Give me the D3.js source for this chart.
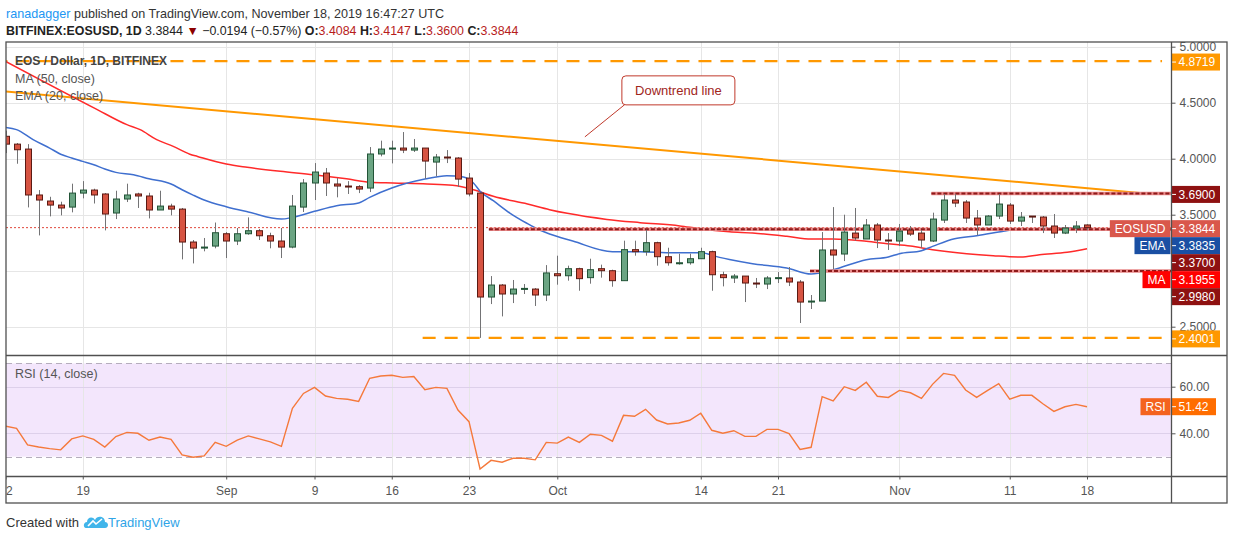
<!DOCTYPE html>
<html><head><meta charset="utf-8">
<script src="https://cdn.jsdelivr.net/npm/d3@7"></script>
<style>
body{margin:0;background:#fff;}
svg{display:block;font-family:"Liberation Sans",Arial,sans-serif;}
</style></head><body>
<svg id="c" width="1234" height="540"></svg>
<script>
// ---------------- DATA ----------------
const startDate = "2019-08-12";
const opens  = [4.20,4.13,4.086,3.676,3.622,3.586,3.568,3.693,3.72,3.685,3.515,3.64,3.685,3.667,3.542,3.577,3.55,3.256,3.202,3.22,3.33,3.265,3.33,3.357,3.312,3.265,3.211,3.568,3.783,3.872,3.774,3.756,3.75,3.738,4.042,4.086,4.095,4.077,4.095,3.97,4.015,4.006,3.827,3.693,2.765,2.872,2.792,2.836,2.836,2.783,2.973,2.955,3.018,2.938,3.018,3.0,2.911,3.188,3.17,3.25,3.125,3.063,3.071,3.107,3.17,2.964,2.935,2.952,2.89,2.881,2.932,2.935,2.899,2.72,2.729,3.185,3.149,3.336,3.283,3.408,3.274,3.265,3.363,3.336,3.265,3.452,3.631,3.613,3.47,3.408,3.488,3.586,3.443,3.488,3.479,3.399,3.336,3.381,3.4084];
const highs  = [4.25,4.14,4.13,3.72,3.66,3.616,3.777,3.80,3.732,3.693,3.714,3.777,3.696,3.696,3.714,3.598,3.56,3.274,3.292,3.43,3.345,3.381,3.476,3.372,3.339,3.381,3.676,3.818,3.961,3.917,3.827,3.80,3.765,4.104,4.161,4.161,4.238,4.176,4.095,4.042,4.077,4.015,3.872,3.693,2.952,2.881,2.917,2.881,2.845,3.05,3.134,3.045,3.027,3.107,3.054,3.009,3.268,3.268,3.366,3.259,3.205,3.152,3.152,3.205,3.179,2.991,2.97,2.952,2.935,2.952,2.988,3.033,2.917,2.783,3.345,3.568,3.50,3.56,3.461,3.426,3.336,3.417,3.399,3.363,3.518,3.685,3.685,3.631,3.542,3.497,3.685,3.604,3.524,3.488,3.488,3.506,3.408,3.443,3.4147];
const lows   = [4.05,3.955,3.565,3.315,3.485,3.494,3.521,3.646,3.60,3.36,3.461,3.613,3.56,3.467,3.542,3.494,3.101,3.065,3.173,3.2,3.113,3.229,3.321,3.274,3.2,3.113,3.2,3.524,3.631,3.667,3.655,3.685,3.693,3.702,4.021,3.958,4.05,4.06,3.821,3.842,3.961,3.747,3.664,2.4001,2.702,2.592,2.711,2.792,2.685,2.729,2.875,2.911,2.821,2.884,2.938,2.857,2.911,3.134,3.134,3.045,3.045,3.054,3.054,3.107,2.821,2.86,2.89,2.72,2.845,2.836,2.89,2.863,2.533,2.658,2.729,3.015,3.086,3.268,3.283,3.202,3.185,3.22,3.31,3.202,3.256,3.426,3.568,3.426,3.318,3.408,3.461,3.417,3.399,3.426,3.336,3.292,3.327,3.336,3.36];
const closes = [4.13,4.08,3.676,3.631,3.586,3.56,3.693,3.72,3.676,3.506,3.64,3.676,3.667,3.542,3.577,3.55,3.256,3.202,3.211,3.339,3.265,3.33,3.357,3.312,3.265,3.211,3.577,3.783,3.881,3.783,3.756,3.747,3.729,4.042,4.086,4.095,4.077,4.095,3.979,4.015,4.006,3.818,3.685,2.765,2.872,2.792,2.836,2.842,2.783,2.98,2.955,3.018,2.929,3.009,3.0,2.911,3.188,3.17,3.25,3.125,3.071,3.071,3.107,3.17,2.964,2.938,2.952,2.89,2.881,2.935,2.938,2.899,2.72,2.729,3.185,3.14,3.345,3.292,3.408,3.274,3.265,3.354,3.327,3.274,3.461,3.631,3.604,3.47,3.408,3.488,3.595,3.443,3.479,3.479,3.399,3.336,3.381,3.399,3.3844];
// EMA(20) and MA(50): [day index, value]
const emaPoints = [[0,4.28],[1,4.26],[2.5,4.17],[4,4.095],[5,4.04],[6,4.006],[7,3.976],[8,3.946],[9,3.908],[10,3.878],[11.6,3.857],[13,3.821],[15,3.774],[16,3.723],[17,3.675],[18,3.631],[20,3.571],[22,3.524],[25,3.461],[26,3.476],[28,3.53],[30,3.58],[32,3.605],[33,3.655],[35,3.738],[38,3.818],[40,3.848],[41.5,3.836],[42.4,3.783],[43,3.71],[44.2,3.625],[45.7,3.515],[47.2,3.426],[48.4,3.363],[49.3,3.327],[51.4,3.265],[55,3.17],[57.5,3.17],[60.5,3.16],[63,3.16],[64.7,3.119],[65.6,3.10],[67.7,3.0625],[70.8,3.024],[73,2.97],[75,3.009],[78,3.098],[80,3.122],[81,3.152],[83,3.179],[84,3.217],[86,3.286],[88,3.3125],[90,3.345],[91.3,3.366],[93,3.375],[95.3,3.378],[98,3.3835]];
const maPoints = [[0,4.87],[8.1,4.45],[11,4.304],[12.2,4.259],[13.7,4.17],[15.2,4.11],[16.7,4.04],[17.4,4.02],[20,3.952],[21.9,3.923],[24.9,3.887],[27.9,3.857],[30.9,3.82],[33,3.79],[35.1,3.783],[38.2,3.774],[40.5,3.762],[42.4,3.723],[44.2,3.664],[47.3,3.595],[49.3,3.545],[50.9,3.512],[54.5,3.458],[57.5,3.429],[61.1,3.40],[62.9,3.375],[65.6,3.348],[67.7,3.336],[70.8,3.307],[73,3.283],[75,3.283],[78,3.262],[79.9,3.241],[82,3.22],[84,3.1875],[87.1,3.152],[89.5,3.134],[92,3.122],[93.7,3.143],[96.2,3.164],[98,3.1955]];
const rsiValues = [43.1,42.1,35,34.1,33.4,32.9,37.6,38.9,37.4,34.1,38.6,40.4,40,37,38.4,37.4,30.7,29.7,30.3,36.1,34.4,37.1,38.9,37.6,36.3,34.4,50.7,57.1,59.7,56,55,54.6,53.7,63.6,64.6,64.9,64,64.4,58.7,59.7,59.3,50,45,24.7,28.4,27.6,29.3,29.3,28.6,36.1,35.8,38.4,36.1,39.6,39.1,36.6,47.7,47.3,50.3,45.7,44,44.4,45.6,48.6,41.3,40,41.1,38.7,38.7,41.7,41.7,39.9,33.1,34,55.7,53.9,60,58.4,61.9,55.9,55.4,58.4,57.4,55,61,65.7,64.9,58.6,55.4,58.4,61.3,54.7,56.3,56.3,52.7,49.4,51.4,52.4,51.42];
const dateTicks = ["2019-08-12","2019-08-19","2019-09-01","2019-09-09","2019-09-16","2019-09-23","2019-10-01","2019-10-14","2019-10-21","2019-11-01","2019-11-11","2019-11-18"];
const dateTickLabels = ["12","19","Sep","9","16","23","Oct","14","21","Nov","11","18"];
const priceTicks = [5.0,4.5,4.0,3.5,3.0,2.5];
const rsiTicks = [60,40];
const rsiBand = [70,30];
// drawn levels: price, start day index, end day index
const orangeLevels = [[4.8719,-1,104.8],[2.4001,37.8,104.8]];
const redLevels = [[3.69,83.9],[3.37,43.8],[2.998,72.9]];
const trendLine = [[-0.5,4.604],[103.3,3.69]];
const lastPrice = 3.3844;
const annotation = {text:"Downtrend line", day:52.5, price:4.195};
const priceLabels = [
  {v:4.8719, c:"#ff9800"},
  {v:3.69, c:"#8e1111"},
  {v:3.3844, c:"#d9574b", tag:"EOSUSD"},
  {v:3.3835, c:"#1a4fa3", tag:"EMA"},
  {v:3.37, c:"#8e1111"},
  {v:3.1955, c:"#ff0000", tag:"MA"},
  {v:2.998, c:"#8e1111"},
  {v:2.4001, c:"#ff9800"}
];

// ---------------- LAYOUT ----------------
const svg = d3.select("#c");
const L = 6, AX = 1171.5, RR = 1227, T = 42, MB = 355.5, RB = 476.5, B = 503;
const t0 = new Date(startDate);
const dayIdx = s => d3.utcDay.count(t0, new Date(s));
const x = d3.scaleLinear().domain([0, 98]).range([5.5, 1087]);
const y = d3.scaleLinear().domain([2.5, 5]).range([326.7, 46.7]);
const yR = d3.scaleLinear().domain([40, 60]).range([433.3, 386.7]);
const UP = "#6ba583", UPB = "#225437", DN = "#d75442", DNB = "#5b1a13";

const defs = svg.append("defs");
defs.append("clipPath").attr("id","mainClip").append("rect").attr("x",L).attr("y",T).attr("width",AX-L).attr("height",MB-T);
defs.append("clipPath").attr("id","rsiClip").append("rect").attr("x",L).attr("y",MB).attr("width",AX-L).attr("height",RB-MB);
defs.append("clipPath").attr("id","timeClipT").append("rect").attr("x",L).attr("y",0).attr("width",AX-L).attr("height",B-RB);

// ---------- header ----------
const h1 = svg.append("text").attr("x",6).attr("y",18).attr("font-size",12.6).attr("fill","#333");
h1.append("tspan").attr("fill","#2196f3").text("ranadagger");
h1.append("tspan").text(" published on TradingView.com, November 18, 2019 16:47:27 UTC");
const h2 = svg.append("text").attr("x",6).attr("y",35).attr("font-size",12.4).attr("fill","#222");
h2.append("tspan").attr("font-weight","bold").text("BITFINEX:EOSUSD, 1D");
h2.append("tspan").text(" " + closes[98].toFixed(4) + " ");
h2.append("tspan").attr("fill","#8b0000").text("▼");
h2.append("tspan").text(" \u22120.0194 (\u22120.57%) ");
const ohlc = [["O:",opens[98]],["H:",highs[98]],["L:",lows[98]],["C:",closes[98]]];
ohlc.forEach((p,i)=>{
  h2.append("tspan").attr("font-weight","bold").text((i?" ":"")+p[0]);
  h2.append("tspan").attr("fill","#b71c1c").text(p[1].toFixed(4));
});

// ---------- backgrounds & grid ----------
svg.append("rect").attr("x",L).attr("y",yR(rsiBand[0])).attr("width",AX-L).attr("height",yR(rsiBand[1])-yR(rsiBand[0])).attr("fill","#f3e6fc");
const gridG = svg.append("g").attr("stroke","#e6e6e6").attr("stroke-width",1);
dateTicks.forEach(d=>{
  const xx = Math.round(x(dayIdx(d)))+0.5;
  if (xx > L+2) gridG.append("line").attr("x1",xx).attr("x2",xx).attr("y1",T).attr("y2",RB);
});
priceTicks.forEach(p=>{
  const yy = Math.round(y(p))+0.5;
  gridG.append("line").attr("x1",L).attr("x2",AX).attr("y1",yy).attr("y2",yy);
});
rsiTicks.forEach(p=>{
  const yy = Math.round(yR(p))+0.5;
  gridG.append("line").attr("x1",L).attr("x2",AX).attr("y1",yy).attr("y2",yy).attr("stroke","#ddd0ea");
});
rsiBand.forEach(p=>{
  const yy = Math.round(yR(p))+0.5;
  svg.append("line").attr("x1",L).attr("x2",AX).attr("y1",yy).attr("y2",yy).attr("stroke","#b5adbd").attr("stroke-dasharray","6,4");
});

// ---------- main pane ----------
const main = svg.append("g").attr("clip-path","url(#mainClip)");
orangeLevels.forEach(l=>{
  main.append("line").attr("x1",x(l[1])).attr("x2",x(l[2])).attr("y1",y(l[0])).attr("y2",y(l[0]))
    .attr("stroke","#ff9800").attr("stroke-width",2.2).attr("stroke-dasharray","13,9");
});
main.append("line").attr("x1",x(trendLine[0][0])).attr("y1",y(trendLine[0][1]))
  .attr("x2",x(trendLine[1][0])).attr("y2",y(trendLine[1][1]))
  .attr("stroke","#ff9800").attr("stroke-width",2);

const lineGen = d3.line().x(d=>x(d[0])).y(d=>y(d[1])).curve(d3.curveMonotoneX);
main.append("path").attr("d",lineGen(maPoints)).attr("fill","none").attr("stroke","#ff2a2a").attr("stroke-width",1.5);
main.append("path").attr("d",lineGen(emaPoints)).attr("fill","none").attr("stroke","#3f6fcf").attr("stroke-width",1.5);

main.append("line").attr("x1",L).attr("x2",AX).attr("y1",y(lastPrice)).attr("y2",y(lastPrice))
  .attr("stroke","#e0463a").attr("stroke-width",1).attr("stroke-dasharray","2,2");

redLevels.forEach(l=>{
  main.append("line").attr("x1",x(l[1])).attr("x2",AX).attr("y1",y(l[0])).attr("y2",y(l[0]))
    .attr("stroke","#e98a8a").attr("stroke-width",3.5);
  main.append("line").attr("x1",x(l[1])).attr("x2",AX).attr("y1",y(l[0])).attr("y2",y(l[0]))
    .attr("stroke","#8e1a1a").attr("stroke-width",2).attr("stroke-dasharray","4,2");
});

const cg = main.append("g");
closes.forEach((c,i)=>{
  const o = opens[i], up = c >= o, cx = Math.round(x(i));
  cg.append("line").attr("x1",cx+0.5).attr("x2",cx+0.5).attr("y1",y(highs[i])).attr("y2",y(lows[i]))
    .attr("stroke","#737375").attr("stroke-width",1);
  const top = y(Math.max(o,c)), bot = y(Math.min(o,c));
  cg.append("rect").attr("x",cx-2.5).attr("width",6).attr("y",top).attr("height",Math.max(1,bot-top))
    .attr("fill",up?UP:DN).attr("stroke",up?UPB:DNB).attr("stroke-width",1);
});

// annotation
const ax0 = x(annotation.day), ay0 = y(annotation.price);
const ag = svg.append("g");
ag.append("line").attr("x1",ax0).attr("y1",ay0).attr("x2",ax0+42).attr("y2",ay0-34).attr("stroke","#c0392b").attr("stroke-width",1);
ag.append("rect").attr("x",ax0+37).attr("y",ay0-61).attr("width",113).attr("height",29).attr("rx",4)
  .attr("fill","#fff").attr("stroke","#c0392b").attr("stroke-width",1);
ag.append("text").attr("x",ax0+93.5).attr("y",ay0-42).attr("text-anchor","middle").attr("font-size",13).attr("fill","#a0261c").text(annotation.text);

// legend
svg.append("text").attr("x",15).attr("y",65).attr("font-size",12).attr("fill","#444").attr("font-weight","bold").text("EOS / Dollar, 1D, BITFINEX");
svg.append("text").attr("x",15).attr("y",83).attr("font-size",12.5).attr("fill","#555").text("MA (50, close)");
svg.append("text").attr("x",15).attr("y",100).attr("font-size",12.5).attr("fill","#555").text("EMA (20, close)");

// ---------- RSI pane ----------
const rsiG = svg.append("g").attr("clip-path","url(#rsiClip)");
rsiG.append("path").attr("d", d3.line().x((d,i)=>x(i)).y(d=>yR(d))(rsiValues))
  .attr("fill","none").attr("stroke","#f5793b").attr("stroke-width",1.4);
svg.append("text").attr("x",15).attr("y",378).attr("font-size",12.5).attr("fill","#555").text("RSI (14, close)");

// ---------- price label layout (computed first to hide covered ticks) ----------
let prevY = -1e9;
priceLabels.forEach(p=>{
  let cy = y(p.v) + 1;
  if (cy < prevY + 17) cy = prevY + 17;
  prevY = cy; p.cy = cy;
});
const covered = v => priceLabels.some(p => Math.abs(p.cy - y(v)) < 10);

// ---------- axes ----------
const pAxis = svg.append("g").attr("transform",`translate(${AX},0)`)
  .call(d3.axisRight(y).tickValues(priceTicks).tickFormat(d3.format(".4f")).tickSize(4).tickPadding(4));
pAxis.select(".domain").remove();
pAxis.selectAll("text").attr("font-size",12).attr("fill","#555").attr("font-family","Liberation Sans, Arial, sans-serif")
  .attr("display", d => covered(d) ? "none" : null);
pAxis.selectAll("line").attr("stroke","#555");

const rAxis = svg.append("g").attr("transform",`translate(${AX},0)`)
  .call(d3.axisRight(yR).tickValues(rsiTicks).tickFormat(d3.format(".2f")).tickSize(4).tickPadding(4));
rAxis.select(".domain").remove();
rAxis.selectAll("text").attr("font-size",12).attr("fill","#555").attr("font-family","Liberation Sans, Arial, sans-serif");
rAxis.selectAll("line").attr("stroke","#555");

const tAxis = svg.append("g").attr("transform",`translate(0,${RB})`).attr("clip-path","url(#timeClipT)")
  .call(d3.axisBottom(x).tickValues(dateTicks.map(dayIdx)).tickFormat((d,i)=>dateTickLabels[i]).tickSize(3).tickPadding(7));
tAxis.select(".domain").remove();
tAxis.selectAll("text").attr("font-size",12).attr("fill","#555").attr("font-family","Liberation Sans, Arial, sans-serif");
tAxis.selectAll("line").attr("stroke","#555");

// ---------- price labels ----------
const lblG = svg.append("g").attr("font-size",12);
priceLabels.forEach(p=>{
  const cy = p.cy;
  lblG.append("rect").attr("x",AX+0.5).attr("y",cy-8.5).attr("width",48).attr("height",17).attr("fill",p.c);
  lblG.append("line").attr("x1",AX+0.5).attr("x2",AX+4.5).attr("y1",cy).attr("y2",cy).attr("stroke","#fff");
  lblG.append("text").attr("x",AX+7).attr("y",cy).attr("dy","0.36em").attr("fill","#fff").text(p.v.toFixed(4));
  if (p.tag){
    const t = lblG.append("text").attr("x",AX-6).attr("y",cy).attr("dy","0.36em").attr("text-anchor","end").attr("fill","#fff").text(p.tag);
    const w = t.node().getComputedTextLength();
    lblG.insert("rect", () => t.node()).attr("x",AX-1-w-10).attr("y",cy-8.5).attr("width",w+10).attr("height",17).attr("fill",p.c);
  }
});
{
  const v = rsiValues[rsiValues.length-1], cy = yR(v);
  lblG.append("rect").attr("x",AX+0.5).attr("y",cy-8.5).attr("width",44).attr("height",17).attr("fill","#ff6d00");
  lblG.append("line").attr("x1",AX+0.5).attr("x2",AX+4.5).attr("y1",cy).attr("y2",cy).attr("stroke","#fff");
  lblG.append("text").attr("x",AX+7).attr("y",cy).attr("dy","0.36em").attr("fill","#fff").text(v.toFixed(2));
  const t = lblG.append("text").attr("x",AX-6).attr("y",cy).attr("dy","0.36em").attr("text-anchor","end").attr("fill","#fff").text("RSI");
  const w = t.node().getComputedTextLength();
  lblG.insert("rect", () => t.node()).attr("x",AX-1-w-10).attr("y",cy-8.5).attr("width",w+10).attr("height",17).attr("fill","#f4631e");
}

// ---------- frame ----------
const fr = svg.append("g").attr("stroke","#505050").attr("stroke-width",1.3).attr("fill","none");
fr.append("rect").attr("x",L).attr("y",T).attr("width",RR-L).attr("height",B-T);
fr.append("line").attr("x1",L).attr("x2",RR).attr("y1",MB).attr("y2",MB);
fr.append("line").attr("x1",L).attr("x2",RR).attr("y1",RB).attr("y2",RB);
fr.append("line").attr("x1",AX).attr("x2",AX).attr("y1",T).attr("y2",B);

// ---------- footer ----------
svg.append("text").attr("x",6).attr("y",527).attr("font-size",13).attr("fill","#333").text("Created with");
const logo = svg.append("g").attr("transform","translate(84,514)");
logo.append("path").attr("d","M2,14 C-1,14 -1,8 3,8 C3,3 9,2 11,6 C13,1 21,2 21,8 C25,8 25,14 21,14 Z").attr("fill","#41b5ea");
logo.append("path").attr("d","M4,12 L9,7 L12,10 L18,5").attr("fill","none").attr("stroke","#fff").attr("stroke-width",1.6);
svg.append("text").attr("x",108).attr("y",527).attr("font-size",13).attr("fill","#2fa4e7").text("TradingView");
</script>
</body></html>
